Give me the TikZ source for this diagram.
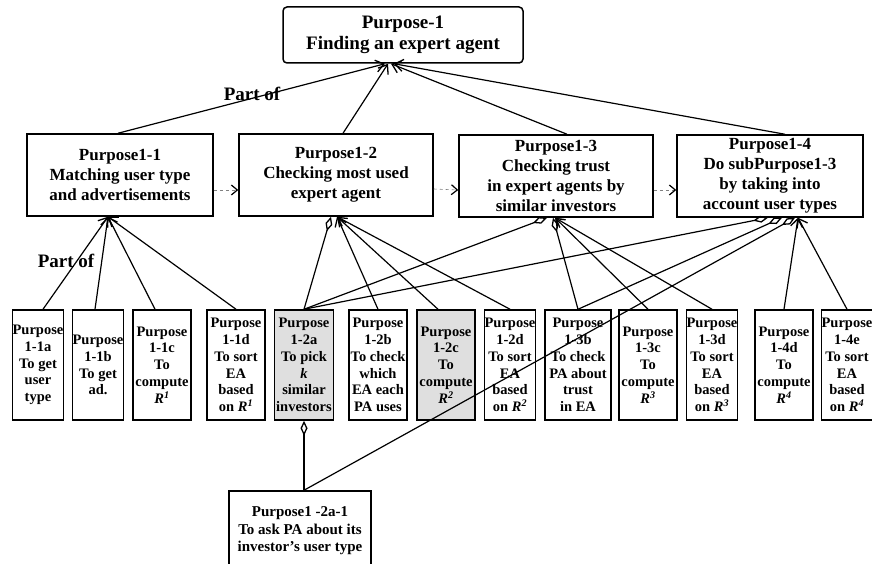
\documentclass[tikz,border=0pt]{standalone}
\usepackage{fontspec}
\setmainfont{Liberation Serif}
\usetikzlibrary{arrows.meta}

\newcommand{\Rn}[1]{\textit{R}\textsuperscript{\textit{#1}}}

\tikzset{
	goal/.style={draw, line width=1.5pt, rounded corners=4pt, minimum width=240pt, minimum height=56pt, align=center, inner sep=0pt, font=\bfseries\fontsize{19}{21}\selectfont},
	subgoal/.style={draw, line width=1.5pt, minimum height=82pt, align=center, inner sep=0pt, font=\bfseries\fontsize{17}{20}\selectfont},
	task/.style={draw, line width=1.5pt, minimum height=110pt, align=center, inner sep=0pt, font=\bfseries\fontsize{14.5}{16.8}\selectfont},
	taskgray/.style={task, fill=gray!25},
	partof/.style={line width=1.2pt, -{Straight Barb[length=8pt,width=12pt,line width=1.3pt]}},
	agg/.style={line width=1.2pt, -{Diamond[open,length=15pt,width=7pt,line width=1.3pt]}},
	seq/.style={gray, dashed, line width=0.6pt, -{Straight Barb[length=6pt,width=10pt,black,line width=1.2pt]}},
	lbl/.style={font=\bfseries\fontsize{19}{21}\selectfont, inner sep=0pt}
}

\begin{document}
\begin{tikzpicture}[x=1pt,y=-1pt]
	\useasboundingbox (0,0) rectangle (872,564);
	\clip (0,0) rectangle (872,564);

	% Top purpose
	\node[goal] (p1) at (403,35) {Purpose-1\\Finding an expert agent};

	% Sub purposes
	\node[subgoal, minimum width=186pt] (p11) at (120,175) {Purpose1-1\\Matching user type\\and advertisements};
	\node[subgoal, minimum width=194pt] (p12) at (336,175) {Purpose1-2\\Checking most used\\expert agent};
	\node[subgoal, minimum width=194pt] (p13) at (556,176) {Purpose1-3\\Checking trust\\in expert agents by\\similar investors};
	\node[subgoal, minimum width=186pt] (p14) at (770,176) {Purpose1-4\\Do subPurpose1-3\\by taking into\\account user types};

	% Tasks
	\node[task, minimum width=50pt] (p11a) at (38,365) {Purpose\\1-1a\\To get\\user\\type};
	\node[task, minimum width=50pt] (p11b) at (98,365) {Purpose\\1-1b\\To get\\ad.};
	\node[task, minimum width=58pt] (p11c) at (162,365) {Purpose\\1-1c\\To\\compute\\\Rn{1}};
	\node[task, minimum width=58pt] (p11d) at (236,365) {Purpose\\1-1d\\To sort\\EA\\based\\on \Rn{1}};
	\node[taskgray, minimum width=59pt] (p12a) at (304,365) {Purpose\\1-2a\\To pick\\\textit{k}\\similar\\investors};
	\node[task, minimum width=58pt] (p12b) at (378,365) {Purpose\\1-2b\\To check\\which\\EA each\\PA uses};
	\node[taskgray, minimum width=58pt] (p12c) at (446,365) {Purpose\\1-2c\\To\\compute\\\Rn{2}};
	\node[task, minimum width=50pt] (p12d) at (510,365) {Purpose\\1-2d\\To sort\\EA\\based\\on \Rn{2}};
	\node[task, minimum width=66pt] (p13b) at (578,365) {Purpose\\1-3b\\To check\\PA about\\trust\\in EA};
	\node[task, minimum width=58pt] (p13c) at (648,365) {Purpose\\1-3c\\To\\compute\\\Rn{3}};
	\node[task, minimum width=50pt] (p13d) at (712,365) {Purpose\\1-3d\\To sort\\EA\\based\\on \Rn{3}};
	\node[task, minimum width=58pt] (p14d) at (784,365) {Purpose\\1-4d\\To\\compute\\\Rn{4}};
	\node[task, minimum width=48pt] (p14e) at (847,365) {Purpose\\1-4e\\To sort\\EA\\based\\on \Rn{4}};

	% Sub task of 1-2a
	\node[task, minimum width=142pt, minimum height=80pt, font=\bfseries\fontsize{15}{17.5}\selectfont] (p12a1) at (300,531) {Purpose1 -2a-1\\To ask PA about its\\investor's user type};

	% Labels
	\node[lbl] (lbltop) at (252,94) {Part of};
	\node[lbl] (lblsub) at (66,261) {Part of};

	% Part of Purpose-1
	\draw[partof] ([xshift=-2pt]p11.north) -- ([xshift=-18pt]p1.south);
	\draw[partof] ([xshift=7pt]p12.north) -- ([xshift=-15pt]p1.south);
	\draw[partof] ([xshift=11pt]p13.north) -- ([xshift=-12pt]p1.south);
	\draw[partof] ([xshift=15pt]p14.north) -- ([xshift=-9pt]p1.south);

	% Order of sub purposes
	\draw[seq] ([yshift=-15pt]p11.east) -- ([yshift=-15pt]p12.west);
	\draw[seq] ([yshift=-14pt]p12.east) -- ([yshift=-14pt]p13.west);
	\draw[seq] ([yshift=-14pt]p13.east) -- ([yshift=-14pt]p14.west);

	% Purpose1-1
	\foreach \n/\s in {p11a/5,p11b/-3,p11c/-7,p11d/0}
		\draw[partof] ([xshift=\s pt]\n.north) -- ([xshift=-12pt]p11.south);

	% Purpose1-2
	\draw[agg] (p12a.north) -- ([xshift=-5pt]p12.south);
	\foreach \n/\s in {p12b/0,p12c/-8,p12d/0}
		\draw[partof] ([xshift=\s pt]\n.north) -- ([xshift=1pt]p12.south);

	% Purpose1-3
	\draw[agg] (p12a.north) -- ([xshift=-9pt]p13.south);
	\draw[agg] (p13b.north) -- ([xshift=-3pt]p13.south);
	\foreach \n in {p13c,p13d}
		\draw[partof] (\n.north) -- ([xshift=-1pt]p13.south);

	% Purpose1-4
	\draw[agg] (p12a.north) -- ([xshift=-2pt]p14.south);
	\draw[agg] (p13b.north) -- ([xshift=12pt]p14.south);
	\draw[agg] (p12a1.north -| p12a.south) -- ([xshift=25pt]p14.south);
	\foreach \n in {p14d,p14e}
		\draw[partof] (\n.north) -- ([xshift=28pt]p14.south);

	% Purpose1-2a
	\draw[agg] (p12a1.north -| p12a.south) -- (p12a.south);
\end{tikzpicture}
\end{document}
